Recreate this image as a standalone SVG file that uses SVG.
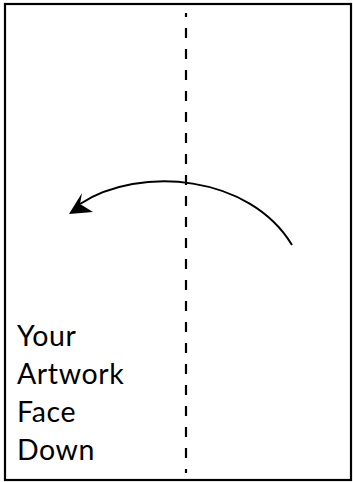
<svg xmlns="http://www.w3.org/2000/svg" width="353" height="482" viewBox="0 0 353 482">
<style>
.frame{fill:none;stroke:#000;stroke-width:2.2}
.fold{stroke:#000;stroke-width:2.2;stroke-dasharray:10 11;stroke-dashoffset:6;fill:none}
.arc{fill:none;stroke:#000;stroke-width:2}
.lbl{font-family:Lato,"Noto Sans",sans-serif;font-size:28.5px;letter-spacing:0.6px;fill:#000}
</style>
<rect width="353" height="482" fill="#fff"/>
<rect class="frame" x="5" y="4" width="346" height="476"/>
<g id="fold-line">
<line class="fold" x1="186" y1="13" x2="186" y2="473"/>
</g>
<g id="connectors">
<path class="arc" d="M292,245 C250,175 140,165 80,204"/>
<polygon points="69,214 82,193 80,204 93,212" fill="#000"/>
</g>
<g id="label">
<text class="lbl" x="17" y="346">Your</text>
<text class="lbl" x="17" y="384">Artwork</text>
<text class="lbl" x="17" y="422">Face</text>
<text class="lbl" x="17" y="460">Down</text>
</g>
</svg>
